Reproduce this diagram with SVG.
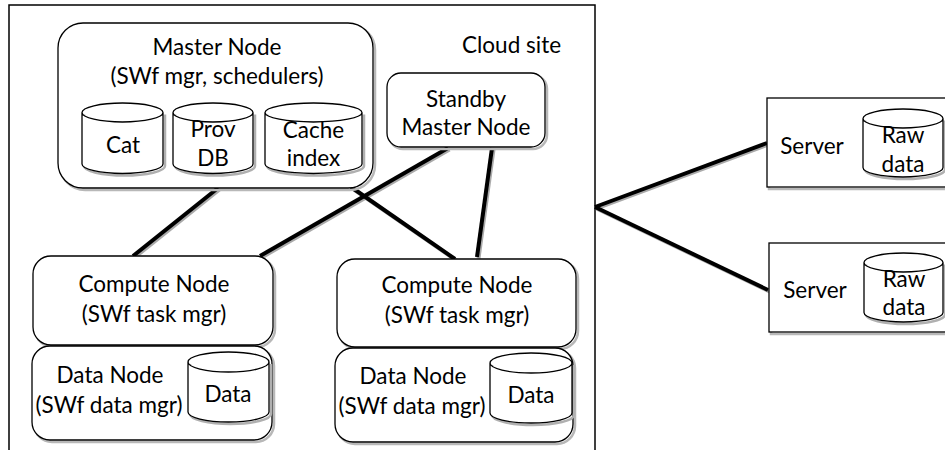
<svg xmlns="http://www.w3.org/2000/svg" width="945" height="450" viewBox="0 0 945 450">
<style>
text{font-family:Lato,"Liberation Sans",sans-serif;font-size:22.5px;fill:#000;text-anchor:middle}
.box{fill:#fff;stroke:#000;stroke-width:1.3}
.sh{fill:none;stroke:#b8b8b8;stroke-width:2.5}
.cyl{fill:#fff;stroke:#000;stroke-width:1.3}
.cylsh{fill:none;stroke:#b0b0b0;stroke-width:2.5}
.ln{stroke:#000;stroke-width:4;stroke-linecap:butt;fill:none}
.lnsh{stroke:#aaa;stroke-width:4;fill:none}
</style>
<rect x="0" y="0" width="945" height="450" fill="#fff"/>
<g id="cloud-site">
<rect x="9" y="5" width="586" height="470" fill="#fff" stroke="#000" stroke-width="1.5"/>
<text x="462" y="53" style="text-anchor:start">Cloud site</text>
</g>
<g id="connectors">
<g transform="translate(1.5,1.5)">
<line class="lnsh" x1="218" y1="188" x2="133" y2="256"/>
<line class="lnsh" x1="351" y1="187" x2="455" y2="259"/>
<line class="lnsh" x1="448" y1="148" x2="260" y2="256"/>
<line class="lnsh" x1="492" y1="148" x2="477" y2="257"/>
<line class="lnsh" x1="595" y1="207" x2="767" y2="143"/>
<line class="lnsh" x1="595" y1="207" x2="768" y2="290"/>
</g>
<line class="ln" x1="218" y1="188" x2="133" y2="256"/>
<line class="ln" x1="351" y1="187" x2="455" y2="259"/>
<line class="ln" x1="448" y1="148" x2="260" y2="256"/>
<line class="ln" x1="492" y1="148" x2="477" y2="257"/>
<line class="ln" x1="595" y1="207" x2="767" y2="143"/>
<line class="ln" x1="595" y1="207" x2="768" y2="290"/>
</g>
<g id="master-node">
<rect class="sh" x="60" y="25" width="315" height="165" rx="25"/>
<rect class="box" x="58" y="23" width="315" height="165" rx="25"/>
<text x="217" y="55">Master Node</text>
<text x="217" y="84">(SWf mgr, schedulers)</text>
</g>
<g id="cat">
<path class="cylsh" transform="translate(2,2)" d="M82,112.5 V164 A40.5,9.5 0 0 0 163,164 V112.5"/>
<path class="cyl" d="M82,112.5 A40.5,9.5 0 0 1 163,112.5 V164 A40.5,9.5 0 0 1 82,164 Z M82,112.5 A40.5,9.5 0 0 0 163,112.5"/>
<text x="123" y="153">Cat</text>
</g>
<g id="prov-db">
<path class="cylsh" transform="translate(2,2)" d="M173,112.5 V164 A40,9.5 0 0 0 253,164 V112.5"/>
<path class="cyl" d="M173,112.5 A40,9.5 0 0 1 253,112.5 V164 A40,9.5 0 0 1 173,164 Z M173,112.5 A40,9.5 0 0 0 253,112.5"/>
<text x="213" y="137">Prov</text>
<text x="213" y="166">DB</text>
</g>
<g id="cache-index">
<path class="cylsh" transform="translate(2,2)" d="M265,112.5 V164 A48.5,9.5 0 0 0 362,164 V112.5"/>
<path class="cyl" d="M265,112.5 A48.5,9.5 0 0 1 362,112.5 V164 A48.5,9.5 0 0 1 265,164 Z M265,112.5 A48.5,9.5 0 0 0 362,112.5"/>
<text x="313.5" y="138">Cache</text>
<text x="313.5" y="166">index</text>
</g>
<g id="standby-master-node">
<rect class="sh" x="389" y="75" width="158" height="74" rx="14"/>
<rect class="box" x="387" y="73" width="158" height="74" rx="14"/>
<text x="466" y="107">Standby</text>
<text x="466" y="135">Master Node</text>
</g>
<g id="compute-node-1">
<rect class="sh" x="35" y="258" width="240" height="89" rx="18"/>
<rect class="box" x="33" y="256" width="240" height="89" rx="18"/>
<text x="154" y="292">Compute Node</text>
<text x="154" y="322">(SWf task mgr)</text>
</g>
<g id="data-node-1">
<rect class="sh" x="34" y="348" width="240" height="94" rx="18"/>
<rect class="box" x="32" y="346" width="240" height="94" rx="18"/>
<text x="110" y="383">Data Node</text>
<text x="109" y="413">(SWf data mgr)</text>
<path class="cylsh" transform="translate(2,2)" d="M188,362 V412 A40.5,10 0 0 0 269,412 V362"/>
<path class="cyl" d="M188,362 A40.5,10 0 0 1 269,362 V412 A40.5,10 0 0 1 188,412 Z M188,362 A40.5,10 0 0 0 269,362"/>
<text x="228" y="402">Data</text>
</g>
<g id="compute-node-2">
<rect class="sh" x="339" y="261" width="239" height="88" rx="18"/>
<rect class="box" x="337" y="259" width="239" height="88" rx="18"/>
<text x="457" y="293">Compute Node</text>
<text x="457" y="323">(SWf task mgr)</text>
</g>
<g id="data-node-2">
<rect class="sh" x="337" y="350" width="238" height="94" rx="18"/>
<rect class="box" x="335" y="348" width="238" height="94" rx="18"/>
<text x="413" y="384">Data Node</text>
<text x="412" y="414">(SWf data mgr)</text>
<path class="cylsh" transform="translate(2,2)" d="M490,363 V413 A41,10 0 0 0 572,413 V363"/>
<path class="cyl" d="M490,363 A41,10 0 0 1 572,363 V413 A41,10 0 0 1 490,413 Z M490,363 A41,10 0 0 0 572,363"/>
<text x="531" y="403">Data</text>
</g>
<g id="server-1">
<rect x="769" y="100" width="190" height="89" fill="none" stroke="#b8b8b8" stroke-width="2.5"/>
<rect class="box" x="767" y="98" width="190" height="89"/>
<text x="812" y="154">Server</text>
<path class="cylsh" transform="translate(2,2)" d="M863,118.5 V167.5 A40,9.5 0 0 0 943,167.5 V118.5"/>
<path class="cyl" d="M863,118.5 A40,9.5 0 0 1 943,118.5 V167.5 A40,9.5 0 0 1 863,167.5 Z M863,118.5 A40,9.5 0 0 0 943,118.5"/>
<text x="903" y="143">Raw</text>
<text x="903" y="172">data</text>
</g>
<g id="server-2">
<rect x="771" y="245" width="190" height="89" fill="none" stroke="#b8b8b8" stroke-width="2.5"/>
<rect class="box" x="769" y="243" width="190" height="89"/>
<text x="815" y="298">Server</text>
<path class="cylsh" transform="translate(2,2)" d="M864,262.5 V312.5 A39.5,9.5 0 0 0 943,312.5 V262.5"/>
<path class="cyl" d="M864,262.5 A39.5,9.5 0 0 1 943,262.5 V312.5 A39.5,9.5 0 0 1 864,312.5 Z M864,262.5 A39.5,9.5 0 0 0 943,262.5"/>
<text x="904" y="287">Raw</text>
<text x="904" y="315">data</text>
</g>
</svg>
